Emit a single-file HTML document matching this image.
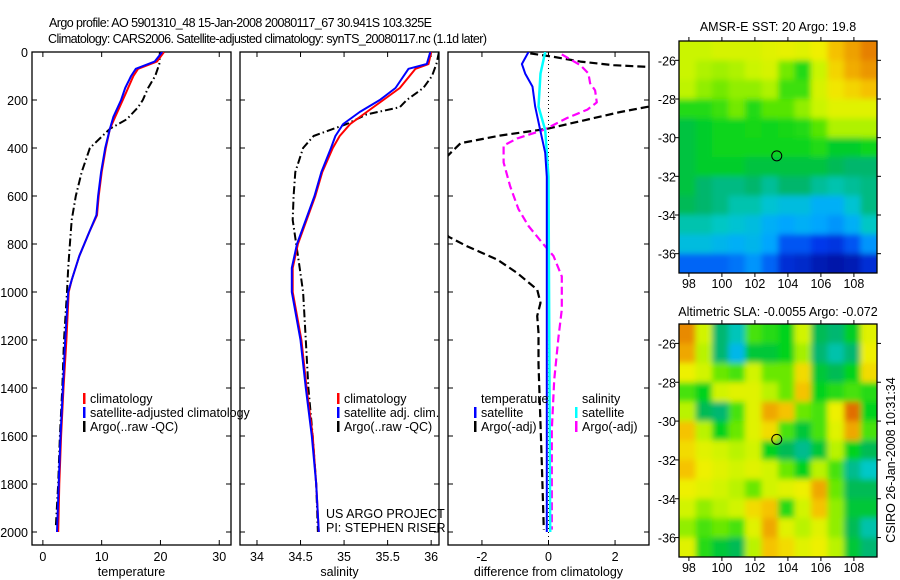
<!DOCTYPE html>
<html><head><meta charset="utf-8"><style>
html,body{margin:0;padding:0;background:#fff;}
svg{display:block;font-family:"Liberation Sans",sans-serif;}
</style></head><body>
<svg id="c" width="900" height="580" viewBox="0 0 900 580">
<defs>
<clipPath id="cp1"><rect x="32" y="52" width="199" height="493"/></clipPath>
<clipPath id="cp2"><rect x="240" y="52" width="199" height="493"/></clipPath>
<clipPath id="cp3"><rect x="448" y="52" width="201" height="493"/></clipPath>
<clipPath id="cm1"><rect x="679" y="41" width="198" height="232"/></clipPath>
<clipPath id="cm2"><rect x="679" y="324" width="198" height="233"/></clipPath>
<filter id="bl" x="-5%" y="-5%" width="110%" height="110%"><feGaussianBlur stdDeviation="3"/></filter>
</defs>
<text x="49" y="27" font-size="12.5" textLength="383">Argo profile: AO 5901310_48 15-Jan-2008 20080117_67 30.941S 103.325E</text>
<text x="48" y="43" font-size="12.5" textLength="439">Climatology: CARS2006. Satellite-adjusted climatology: synTS_20080117.nc (1.1d later)</text>
<g id="root"></g>
</svg>
<script>
// ---- data ----
const depthAxisTicks=[0,200,400,600,800,1000,1200,1400,1600,1800,2000];
const tempTicks=[0,10,20,30];
const salTicks=[34,34.5,35,35.5,36];
const diffTicks=[-2,0,2];
const tClimDepth=[0,40,70,100,150,200,270,320,400,500,600,680,750,850,950,1000,1200,1400,1600,1800,2000];
const tClim=[20.6,19.4,16.2,15.4,14.5,13.6,12.3,11.4,10.7,10.0,9.5,9.2,7.9,6.2,4.9,4.4,4.0,3.5,3.1,2.8,2.6];
const tSat=[20.3,19.0,15.8,15.0,14.0,13.3,12.0,11.4,10.6,9.9,9.4,9.1,7.9,6.2,4.9,4.3,3.8,3.4,3.0,2.7,2.4];
const tArgoDepth=[0,50,100,150,200,230,280,320,360,400,500,600,700,800,900,1000,1200,1400,1600,1800,1980];
const tArgo=[19.9,19.8,19.1,17.9,17.0,16.2,14.3,11.4,9.7,8.0,6.6,5.6,4.9,4.6,4.3,4.1,3.6,3.3,2.9,2.6,2.2];
const sClimDepth=[0,50,70,150,200,250,300,350,400,500,600,700,800,900,1000,1200,1400,1600,1800,2000];
const sClim=[36.0,35.97,35.82,35.64,35.45,35.26,35.07,34.95,34.87,34.75,34.67,34.57,34.47,34.41,34.41,34.51,34.57,34.64,34.68,34.71];
const sSat=[35.99,35.95,35.74,35.59,35.41,35.18,34.99,34.9,34.85,34.74,34.66,34.56,34.46,34.4,34.4,34.5,34.56,34.63,34.68,34.71];
const sArgoDepth=[0,50,100,150,200,230,260,300,330,350,400,500,600,700,800,900,1000,1200,1400,1600,1800,2000];
const sArgo=[36.09,36.06,36.01,35.91,35.72,35.64,35.26,35.03,34.8,34.65,34.53,34.44,34.42,34.41,34.45,34.49,34.53,34.56,34.59,34.64,34.68,34.7];
const dTSatDepth=[0,50,90,144,228,325,420,520,825,2000];
const dTSat=[-0.6,-0.8,-0.7,-0.48,-0.4,-0.25,-0.1,-0.05,-0.05,-0.05];
const dSSatDepth=[0,90,228,325,520,2000];
const dSSat=[-0.1,-0.24,-0.3,-0.1,0,0.05];
const dSArgoDepth=[10,55,89,130,160,210,240,275,325,360,390,460,560,655,725,795,850,935,1073,1187,1367,1575,1854,1990];
const dSArgo=[0.4,0.96,1.2,1.25,1.4,1.45,1.17,0.56,-0.15,-0.94,-1.35,-1.35,-1.15,-0.9,-0.6,-0.19,0.15,0.4,0.4,0.3,0.17,0.1,0.1,0.1];
const dTArgoDepth=[6,20,40,55,64,200,228,250,285,320,348,380,420,500,700,770,810,865,920,990,1045,1100,1170,1300,1712,1990];
const dTArgo=[-0.55,0.15,0.96,1.96,3.3,3.5,3.0,2.16,1.06,-0.04,-1.44,-2.64,-2.94,-3.5,-3.5,-3.0,-2.44,-1.54,-0.95,-0.34,-0.24,-0.34,-0.3,-0.3,-0.2,-0.14];
const sstGrid=[
[.78,.78,.8,.8,.8,.82,.83,.82,.85,.9,.93,.96],
[.78,.76,.75,.76,.78,.8,.72,.66,.78,.88,.92,.94],
[.77,.74,.72,.74,.74,.76,.68,.68,.8,.86,.88,.9],
[.66,.66,.68,.72,.66,.7,.7,.74,.78,.82,.82,.82],
[.6,.62,.64,.64,.65,.64,.65,.66,.7,.76,.76,.76],
[.6,.62,.64,.64,.64,.64,.64,.64,.66,.62,.62,.64],
[.6,.62,.62,.62,.6,.6,.6,.6,.6,.58,.56,.56],
[.6,.56,.54,.54,.56,.52,.56,.56,.52,.5,.52,.54],
[.58,.56,.54,.5,.5,.46,.44,.44,.4,.4,.46,.54],
[.5,.5,.48,.46,.44,.4,.38,.4,.38,.36,.4,.48],
[.44,.44,.42,.4,.42,.38,.28,.28,.24,.22,.28,.36],
[.3,.3,.3,.32,.36,.3,.2,.18,.14,.12,.14,.2]];
const slaGrid=[
[.9,.78,.6,.55,.7,.68,.66,.78,.62,.6,.65,.8],
[.88,.76,.6,.5,.64,.64,.66,.75,.6,.56,.6,.82],
[.82,.78,.72,.7,.78,.72,.72,.84,.64,.62,.66,.84],
[.7,.66,.78,.8,.8,.76,.72,.86,.66,.68,.7,.68],
[.76,.62,.6,.7,.8,.88,.86,.72,.7,.82,.92,.66],
[.86,.76,.66,.72,.8,.84,.7,.64,.7,.8,.88,.7],
[.84,.8,.78,.76,.78,.66,.62,.58,.64,.76,.66,.62],
[.86,.82,.8,.78,.8,.78,.72,.66,.76,.7,.58,.54],
[.82,.8,.78,.76,.72,.78,.8,.82,.88,.72,.62,.62],
[.78,.74,.76,.78,.84,.86,.68,.78,.86,.74,.64,.64],
[.74,.7,.72,.7,.8,.88,.8,.76,.8,.74,.62,.56],
[.8,.68,.64,.62,.76,.86,.84,.8,.82,.76,.64,.6]];
const lonTicks=[98,100,102,104,106,108];
const latTicks=[26,28,30,32,34,36];

const NS='http://www.w3.org/2000/svg';
const root=document.getElementById('root');
function el(tag,attrs,parent){const e=document.createElementNS(NS,tag);for(const k in attrs)e.setAttribute(k,attrs[k]);(parent||root).appendChild(e);return e;}
const Y0=52,Y1=545;
const yD=d=>Y0+d*0.24;
const panels=[
 {x0:32,x1:231,min:-1.85,max:32,ticks:tempTicks,label:'temperature',clip:'cp1',name:'temperature'},
 {x0:240,x1:439,min:33.805,max:36.09,ticks:salTicks,label:'salinity',clip:'cp2',name:'salinity'},
 {x0:448,x1:649,min:-3.02,max:3.02,ticks:diffTicks,label:'difference from climatology',clip:'cp3',name:'difference'}];
panels.forEach(p=>{p.sx=v=>p.x0+(v-p.min)/(p.max-p.min)*(p.x1-p.x0);});

panels.forEach((p,i)=>{
  const g=el('g',{});
  
  
  const fr=el('rect',{x:p.x0,y:Y0,width:p.x1-p.x0,height:Y1-Y0,fill:'none',stroke:'#000','stroke-width':1.3},g);
  
  
  depthAxisTicks.forEach(d=>{
    const y=yD(d);
    el('line',{x1:p.x0,x2:p.x0+5,y1:y,y2:y,stroke:'#000'},g);
    el('line',{x1:p.x1,x2:p.x1-5,y1:y,y2:y,stroke:'#000'},g);
    if(i===0){const t=el('text',{x:28,y:y+5,'font-size':12.5,'text-anchor':'end'},g);t.textContent=d;
      
      }
  });
  p.ticks.forEach(v=>{
    const x=p.sx(v);
    el('line',{x1:x,x2:x,y1:Y1,y2:Y1-5,stroke:'#000'},g);
    el('line',{x1:x,x2:x,y1:Y0,y2:Y0+5,stroke:'#000'},g);
    const t=el('text',{x:x,y:561,'font-size':12.5,'text-anchor':'middle'},g);t.textContent=v;
    
    
  });
  const xt=el('text',{x:(p.x0+p.x1)/2,y:576,'font-size':12.5,'text-anchor':'middle'},g);xt.textContent=p.label;
  
  
});
function series(p,depths,vals,color,dash,name,w){
  const pts=depths.map((d,k)=>p.sx(vals[k]).toFixed(1)+','+yD(d).toFixed(1)).join(' ');
  const a={points:pts,fill:'none',stroke:color,'stroke-width':w||2,'clip-path':'url(#'+p.clip+')','stroke-linejoin':'round'};
  if(dash)a['stroke-dasharray']=dash;
  const e=el('polyline',a);
  
  
}
const P=panels;
series(P[0],tArgoDepth,tArgo,'#000','8,3,1.5,3','temp-argo-line');
series(P[0],tClimDepth,tClim,'#f00',null,'temp-climatology-line');
series(P[0],tClimDepth,tSat,'#00f',null,'temp-satellite-line');
series(P[1],sArgoDepth,sArgo,'#000','8,3,1.5,3','sal-argo-line');
series(P[1],sClimDepth,sClim,'#f00',null,'sal-climatology-line');
series(P[1],sClimDepth,sSat,'#00f',null,'sal-satellite-line');
const zl=el('line',{x1:P[2].sx(0),x2:P[2].sx(0),y1:Y0,y2:Y1,stroke:'#000','stroke-dasharray':'1,3'});


series(P[2],dTArgoDepth,dTArgo,'#000','8,4','diff-temp-argo-line',2.2);
series(P[2],dSArgoDepth,dSArgo,'#f0f','8,4','diff-sal-argo-line',2.2);
series(P[2],dSSatDepth,dSSat,'#0ff',null,'diff-sal-satellite-line',2.5);
series(P[2],dTSatDepth,dTSat,'#00f',null,'diff-temp-satellite-line',2);

function legendEntry(x,y,color,label,name){
  const g=el('g',{});
  
  
  if(color) el('rect',{x:x,y:y-10,width:2.5,height:11,fill:color},g);
  const t=el('text',{x:x+7,y:y,'font-size':12.5},g);t.textContent=label;
}
legendEntry(83,403,'#f00','climatology','legend-climatology');
legendEntry(83,417,'#00f','satellite-adjusted climatology','legend-satellite-adjusted');
legendEntry(83,431,'#000','Argo(..raw -QC)','legend-argo');
legendEntry(337,403,'#f00','climatology','legend-sal-climatology');
legendEntry(337,417,'#00f','satellite adj. clim.','legend-sal-satellite');
legendEntry(337,431,'#000','Argo(..raw -QC)','legend-sal-argo');
legendEntry(474,403,null,'temperature','legend-temperature-header');
legendEntry(474,417,'#00f','satellite','legend-diff-temp-satellite');
legendEntry(474,431,'#000','Argo(-adj)','legend-diff-temp-argo');
legendEntry(575,403,null,'salinity','legend-salinity-header');
legendEntry(575,417,'#0ff','satellite','legend-diff-sal-satellite');
legendEntry(575,431,'#f0f','Argo(-adj)','legend-diff-sal-argo');
const t1=el('text',{x:326,y:518,'font-size':12.5});t1.textContent='US ARGO PROJECT';


const t2=el('text',{x:326,y:532,'font-size':12.5});t2.textContent='PI: STEPHEN RISER';



// ---- maps ----
const cstops=[[0,[0,10,140]],[0.2,[0,60,240]],[0.35,[0,170,255]],[0.45,[0,200,200]],[0.55,[0,180,100]],[0.62,[0,210,30]],[0.7,[90,230,0]],[0.78,[200,245,0]],[0.86,[240,240,0]],[0.92,[245,190,0]],[1,[225,110,0]]];
function cmap(v){v=Math.max(0,Math.min(1,v));for(let i=1;i<cstops.length;i++){if(v<=cstops[i][0]){const a=cstops[i-1],b=cstops[i];const t=(v-a[0])/(b[0]-a[0]);return 'rgb('+a[1].map((c,k)=>Math.round(c+(b[1][k]-c)*t)).join(',')+')';}}return 'rgb(225,110,0)';}
function map(y0,y1,grid,clip,title,titleY,name,gain){
  const x0=679,x1=877;
  const lon=v=>x0+(v-97.4)/(109.4-97.4)*(x1-x0);
  const lat=v=>y0+(v-25)/(37-25)*(y1-y0);
  const col=v=>cmap(0.74+(v-0.74)*gain);
  const g=el('g',{'clip-path':'url(#'+clip+')'});
  
  
  const gb=el('g',{filter:'url(#bl)'},g);
  const nr=grid.length,nc=grid[0].length,cw=(x1-x0)/nc,ch=(y1-y0)/nr;
  for(let r=-1;r<=nr;r++)for(let c=-1;c<=nc;c++){
    const rr=Math.min(nr-1,Math.max(0,r)),cc=Math.min(nc-1,Math.max(0,c));
    el('rect',{x:x0+c*cw,y:y0+r*ch,width:cw+0.5,height:ch+0.5,fill:col(grid[rr][cc])},gb);
  }
  const fr=el('rect',{x:x0,y:y0,width:x1-x0,height:y1-y0,fill:'none',stroke:'#000','stroke-width':1.3});
  
  
  lonTicks.forEach(v=>{const x=lon(v);
    el('line',{x1:x,x2:x,y1:y1,y2:y1+4,stroke:'#000'});
    el('line',{x1:x,x2:x,y1:y0,y2:y0-4,stroke:'#000'});
    const t=el('text',{x:x,y:y1+15,'font-size':12.5,'text-anchor':'middle'});t.textContent=v;
    
    });
  latTicks.forEach(v=>{const y=lat(v);
    el('line',{x1:x0,x2:x0-4,y1:y,y2:y,stroke:'#000'});
    el('line',{x1:x1,x2:x1+4,y1:y,y2:y,stroke:'#000'});
    const t=el('text',{x:676,y:y+5,'font-size':12.5,'text-anchor':'end'});t.textContent='-'+v;
    
    });
  const m=el('circle',{cx:lon(103.325),cy:lat(30.941),r:5,fill:'none',stroke:'#000','stroke-width':1});
  
  
  const t=el('text',{x:778,y:titleY,'font-size':12.5,'text-anchor':'middle'});t.textContent=title;
  
  
}
map(41,273,sstGrid,'cm1','AMSR-E SST: 20 Argo: 19.8',31,'sst-map',1.1);
map(324,557,slaGrid,'cm2','Altimetric SLA: -0.0055 Argo: -0.072',316,'sla-map',1.45);
const cs=el('text',{x:0,y:0,'font-size':12.5,'text-anchor':'middle',transform:'translate(895,460) rotate(-90)'});
cs.textContent='CSIRO 26-Jan-2008 10:31:34';


</script>
</body></html>
